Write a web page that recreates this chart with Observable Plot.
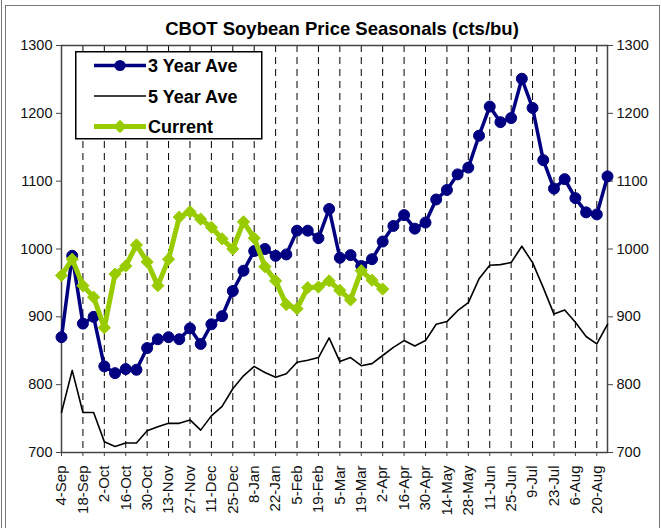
<!DOCTYPE html>
<html>
<head>
<meta charset="utf-8">
<script src="https://cdn.jsdelivr.net/npm/d3@7"></script>
<script src="https://cdn.jsdelivr.net/npm/@observablehq/plot@0.6"></script>
<style>
  html, body { margin: 0; padding: 0; background: #fff; }
  #wrap { position: relative; width: 661px; height: 528px; overflow: hidden; font-family: "Liberation Sans", Arial, sans-serif; }
  #wrap > svg.plot { position: absolute; left: 0; top: 0; }
  #title { position: absolute; left: 0; width: 684px; top: 18px; text-align: center; font-weight: bold; font-size: 18.5px; color: #000; }
  #outer1 { position: absolute; left: 1px; top: 0; width: 1px; height: 528px; background: #777; }
  #outer2 { position: absolute; left: 5px; top: 5px; width: 653px; height: 600px; border: 1px solid #777; }
  #legend { position: absolute; left: 75px; top: 51px; }
</style>
</head>
<body>
<div id="wrap">
  <div id="outer1"></div>
  <div id="outer2"></div>
  <div id="title">CBOT Soybean Price Seasonals (cts/bu)</div>
</div>
<script>
// Weekly categories (52 weeks)
const weeks = ["4-Sep","11-Sep","18-Sep","25-Sep","2-Oct","9-Oct","16-Oct","23-Oct","30-Oct","6-Nov","13-Nov","20-Nov","27-Nov","4-Dec","11-Dec","18-Dec","25-Dec","1-Jan","8-Jan","15-Jan","22-Jan","29-Jan","5-Feb","12-Feb","19-Feb","26-Feb","5-Mar","12-Mar","19-Mar","26-Mar","2-Apr","9-Apr","16-Apr","23-Apr","30-Apr","7-May","14-May","21-May","28-May","4-Jun","11-Jun","18-Jun","25-Jun","2-Jul","9-Jul","16-Jul","23-Jul","30-Jul","6-Aug","13-Aug","20-Aug","27-Aug"];

// Series (cts/bu)
const threeYearAve = [870, 990, 890, 900, 827, 817, 823, 822, 854, 867, 870, 867, 883, 860, 889, 901, 938, 968, 997, 1000, 990, 992, 1027, 1027, 1016, 1059, 987, 991, 975, 985, 1011, 1034, 1050, 1030, 1039, 1073, 1087, 1110, 1120, 1167, 1210, 1187, 1193, 1251, 1208, 1131, 1089, 1103, 1075, 1054, 1051, 1107];
const fiveYearAve = [759, 821, 759, 759, 716, 709, 714, 714, 732, 738, 743, 743, 748, 733, 754, 768, 794, 813, 827, 818, 811, 816, 833, 836, 840, 869, 834, 840, 828, 831, 843, 855, 865, 857, 865, 889, 893, 909, 921, 956, 976, 977, 980, 1004, 980, 943, 904, 910, 892, 871, 860, 889];
const current = [961, 985, 946, 929, 884, 963, 975, 1006, 981, 946, 985, 1047, 1055, 1044, 1032, 1015, 1000, 1040, 1016, 974, 953, 918, 912, 943, 944, 953, 939, 925, 968, 954, 941];

// Axis ticks
const yTicks = [700, 800, 900, 1000, 1100, 1200, 1300];
const xTickIdx = weeks.map((w, i) => i).filter(i => i % 2 === 0);

const series3 = threeYearAve.map((v, i) => ({i, v}));
const series5 = fiveYearAve.map((v, i) => ({i, v}));
const seriesC = current.map((v, i) => ({i, v}));

const BLUE = "#000080", GREEN = "#99CC00";

const chart = Plot.plot({
  width: 661,
  height: 528,
  marginLeft: 61,
  marginRight: 54,
  marginTop: 45,
  marginBottom: 76,
  style: {fontFamily: "'Liberation Sans', Arial, sans-serif", background: "transparent"},
  x: {type: "linear", domain: [0, 51]},
  y: {domain: [700, 1300]},
  marks: [
    Plot.ruleX(xTickIdx.filter(i => i > 0), {stroke: "#000", strokeWidth: 1, strokeDasharray: "7,5"}),
    Plot.frame({stroke: "#444", strokeWidth: 1.5}),
    Plot.axisY({anchor: "left", ticks: yTicks, tickFormat: d => String(d), tickSize: 5, tickPadding: 4, fontSize: 14.5, label: null, stroke: "#444", color: "#111"}),
    Plot.axisY({anchor: "right", ticks: yTicks, tickFormat: d => String(d), tickSize: 5, tickPadding: 4, fontSize: 14.5, label: null, stroke: "#444", color: "#111"}),
    Plot.axisX({anchor: "bottom", ticks: xTickIdx, tickFormat: i => weeks[i], tickRotate: -90, tickSize: 4, tickPadding: 9, fontSize: 15, label: null, stroke: "#444", color: "#111"}),
    Plot.line(series5, {x: "i", y: "v", stroke: "#000", strokeWidth: 1.6}),
    Plot.line(series3, {x: "i", y: "v", stroke: BLUE, strokeWidth: 3.5}),
    Plot.dot(series3, {x: "i", y: "v", r: 5.5, fill: BLUE, stroke: BLUE, strokeWidth: 1}),
    Plot.line(seriesC, {x: "i", y: "v", stroke: GREEN, strokeWidth: 5}),
    Plot.dot(seriesC, {x: "i", y: "v", r: 5.5, symbol: "diamond2", fill: GREEN, stroke: GREEN, strokeWidth: 1})
  ]
});
chart.classList.add("plot");
const wrap = document.getElementById("wrap");
wrap.insertBefore(chart, document.getElementById("title"));

// Legend overlay
const legendItems = [
  {name: "3 Year Ave", color: BLUE, width: 3.5, marker: "circle"},
  {name: "5 Year Ave", color: "#000", width: 1.6, marker: null},
  {name: "Current", color: GREEN, width: 5, marker: "diamond"}
];
const lg = d3.create("svg").attr("id", "legend").attr("width", 188).attr("height", 89);
lg.append("rect").attr("x", 0.75).attr("y", 0.75).attr("width", 186).attr("height", 87)
  .attr("fill", "#fff").attr("stroke", "#000").attr("stroke-width", 1.5);
legendItems.forEach((d, k) => {
  const cy = 14.5 + k * 30.5;
  const g = lg.append("g").attr("transform", `translate(0,${cy})`);
  g.append("line").attr("x1", 19).attr("x2", 71).attr("y1", 0).attr("y2", 0)
    .attr("stroke", d.color).attr("stroke-width", d.width);
  if (d.marker === "circle") g.append("circle").attr("cx", 45).attr("cy", 0).attr("r", 5.5).attr("fill", d.color);
  if (d.marker === "diamond") g.append("path").attr("d", d3.symbol(d3.symbolDiamond2, 113)()).attr("transform", "translate(45,0)").attr("fill", d.color);
  g.append("text").attr("x", 73).attr("y", 6.5).attr("font-weight", "bold").attr("font-size", 18)
    .attr("font-family", "'Liberation Sans', Arial, sans-serif").text(d.name);
});
wrap.appendChild(lg.node());
</script>
</body>
</html>
